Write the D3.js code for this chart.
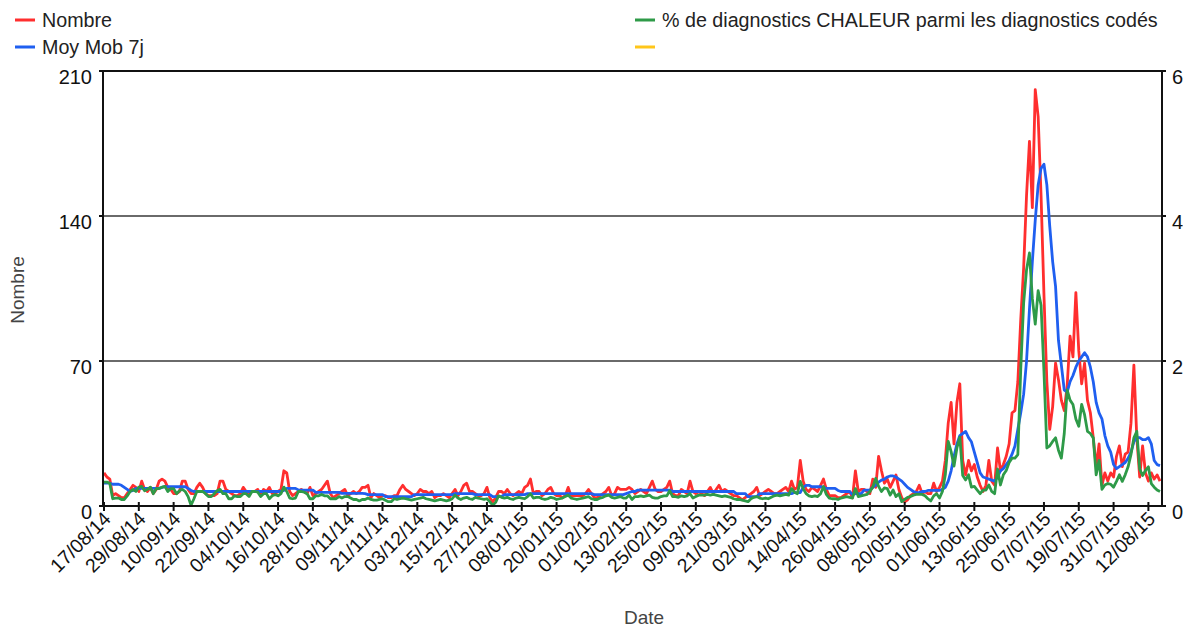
<!DOCTYPE html>
<html><head><meta charset="utf-8">
<script src="https://cdn.jsdelivr.net/npm/d3@7"></script>
<style>body{margin:0;background:#fff} text{font-family:"Liberation Sans",Arial,sans-serif}</style>
</head><body><svg id="c" width="1183" height="628"></svg>
<script>
const startDate = new Date(2014, 7, 17);
const tickEvery = 12;
const tickLabels = ["17/08/14","29/08/14","10/09/14","22/09/14","04/10/14","16/10/14","28/10/14","09/11/14","21/11/14","03/12/14","15/12/14","27/12/14","08/01/15","20/01/15","01/02/15","13/02/15","25/02/15","09/03/15","21/03/15","02/04/15","14/04/15","26/04/15","08/05/15","20/05/15","01/06/15","13/06/15","25/06/15","07/07/15","19/07/15","31/07/15","12/08/15"];
const seriesNames = ["Nombre","Moy Mob 7j","% de diagnostics CHALEUR parmi les diagnostics codés",""];
const seriesColors = ["#ff2e2e","#1f5ff0","#2e9a48","#ffc61a"];
const leftTicks = [0,70,140,210];
const rightTicks = [0,2,4,6];

const nombre = [
16,14,13,5,6,5,4,4,6,8,
10,9,7,12,8,7,9,6,8,12,
13,12,9,8,6,6,7,12,12,8,
6,6,9,11,9,6,5,5,5,6,
12,12,8,7,6,5,5,6,9,7,
6,7,7,8,5,8,7,9,6,6,
7,8,17,16,7,5,6,7,8,7,
6,9,5,6,7,8,10,12,6,4,
5,6,7,8,5,6,7,6,7,9,
9,10,4,6,5,4,5,5,4,4,
5,5,8,10,8,7,6,5,6,8,
7,7,6,7,4,5,5,6,5,4,
6,8,5,7,10,11,7,7,6,5,
5,6,9,4,2,4,7,7,6,8,
6,5,6,7,6,9,10,13,6,7,
7,5,6,8,9,6,5,5,4,5,
9,5,5,5,5,5,6,8,6,4,
4,5,6,7,9,5,6,9,8,8,
8,9,8,6,7,8,7,6,9,12,
8,7,7,8,9,12,6,5,5,8,
7,6,12,7,6,7,6,5,7,9,
6,8,10,7,8,7,6,5,5,4,
3,4,5,6,7,9,5,6,7,8,
7,6,6,7,8,9,7,12,8,9,
22,12,8,7,9,8,7,10,13,8,
5,5,5,4,4,5,6,7,4,17,
7,8,8,7,6,13,9,24,17,11,
13,9,12,15,8,4,2,3,5,6,
7,10,6,7,6,6,11,7,9,12,
22,40,50,30,50,59,22,15,22,17,
20,14,10,7,10,22,12,10,28,17,
20,24,30,45,46,60,90,115,150,176,
144,201,188,150,102,60,37,48,69,61,
51,46,58,82,72,103,75,59,69,51,
45,33,19,30,10,16,12,16,14,24,
29,19,25,26,40,68,33,14,29,16,
12,16,13,15,12];

const moyMob7j = [
11,11,11,10.5,10.5,10.5,10,9,8,7,
7.5,8.5,8.5,8.5,8.5,8.5,8.5,8.5,8.5,8.5,
9,9.3,9.3,9.3,9.3,9.3,9.3,9.3,9.3,8.5,
7.5,7,7,7,7,7,7,7,7,7,
7,7,7,7,7,7,7,7,7,7,
7,7,7,7,7,7,7,7,7,7,
7,7,7.5,8.5,8.5,8.5,8.5,7.7,7.7,7.7,
7.7,7.7,7.7,6.6,6.6,6.6,6.6,6.6,6.6,6.6,
6.6,6.6,6.1,6.1,6.1,6.1,6.1,6.1,6.1,6.1,
6,5.5,5.5,5.5,5.5,5.5,5.5,4.5,4.5,4.5,
4.5,4.5,4.5,4.5,4.5,4.5,4.5,5.5,5.5,5.5,
5.5,5.5,5.5,5.5,5.5,5.5,5.5,5.5,5.5,5.5,
5.5,6,6,6,6,6,6,6,5.5,5.5,
5.5,5.5,5.5,5.5,4.5,4.5,4.5,4.5,5.5,5.5,
5.5,5.5,5.5,5.5,5.5,5.5,6,6,6,6,
6,6,6,6,6,6,6,6,6,6,
6,6,6,6,6,6,6,6,6,5.5,
5.5,5.5,5.5,5.5,5.5,5.5,5.5,5.5,5.5,5.5,
6,6.5,7,7,7.7,7.7,7.7,7.7,7.7,7.7,
7.7,7.7,7.7,7.7,7.7,7.7,7,7,7,7,
7,7,7,7,7,7,7,7,7,7,
7,7,7,7,7,7,7,7,6,6,
6,6,4.5,4.5,4.5,4.5,6,6,6,6,
6,6,6,6,6,6,6,6,6.5,6.5,
6.5,9,10,10,9.3,9.3,9.3,9.3,9,8.5,
8.5,8.5,8.5,7.5,7,7,7,7,5.5,6,
6,6,7.7,7.7,7.7,9,10,11.5,12.5,13,
14,14.5,14.5,14,13,12,10.5,9,8,7,
6.5,6.5,7,7,7.5,7.5,7.5,7.5,7.5,8,
9,12,17,24,30,34,35,36,33,31,
26,21,16,14,13.5,13,12.5,12,14,17,
18,20,22,25,29,37,45,54,70,95,
118,138,155,163,165,155,135,118,106,80,
68,56,55,60,63,67,70,72,74,72,
67,60,50,45,42,34,29,26,20,18,
19,20,21,23,26,31,33,33,32,32,
33,30,22,20,19.5];

const pctChaleur = [
.33,.33,.31,.10,.11,.11,.09,.09,.14,.20,
.23,.20,.26,.27,.21,.23,.26,.17,.24,.24,
.26,.27,.20,.24,.24,.17,.21,.23,.20,.13,
.01,.10,.20,.20,.20,.17,.13,.13,.17,.21,
.23,.17,.17,.10,.10,.14,.13,.13,.17,.17,
.13,.20,.20,.19,.13,.17,.17,.10,.14,.16,
.14,.17,.26,.20,.11,.10,.11,.20,.20,.19,
.17,.10,.10,.14,.14,.16,.14,.14,.10,.10,
.10,.13,.11,.13,.13,.11,.09,.09,.07,.09,
.09,.11,.09,.08,.08,.09,.10,.08,.06,.06,
.10,.09,.10,.11,.10,.09,.08,.09,.10,.11,
.12,.10,.09,.08,.07,.08,.09,.08,.07,.08,
.10,.15,.11,.09,.11,.12,.10,.09,.12,.11,
.10,.09,.10,.06,.01,.05,.14,.12,.11,.12,
.10,.09,.11,.12,.11,.10,.13,.17,.11,.12,
.12,.10,.09,.10,.12,.11,.09,.10,.11,.13,
.15,.11,.10,.09,.10,.11,.12,.13,.10,.09,
.09,.11,.12,.14,.15,.12,.11,.12,.13,.11,
.11,.15,.09,.13,.13,.14,.13,.14,.15,.12,
.11,.11,.13,.14,.14,.21,.13,.13,.12,.14,
.13,.14,.17,.11,.13,.15,.15,.15,.16,.15,
.16,.15,.14,.13,.14,.13,.12,.10,.09,.09,
.08,.07,.06,.10,.12,.13,.11,.10,.11,.10,
.12,.14,.15,.14,.15,.16,.15,.24,.19,.17,
.34,.24,.17,.14,.13,.14,.13,.17,.27,.16,
.11,.10,.10,.09,.11,.12,.13,.12,.11,.24,
.13,.14,.15,.16,.20,.26,.38,.27,.20,.25,
.24,.15,.22,.13,.17,.06,.09,.12,.13,.15,
.16,.16,.16,.14,.10,.07,.14,.17,.11,.20,
.43,.89,.75,.55,.80,.95,.42,.36,.43,.26,
.27,.22,.17,.22,.22,.29,.20,.17,.51,.29,
.43,.49,.60,.66,.66,.71,1.89,2.80,3.26,3.49,
2.86,2.51,2.97,2.77,1.86,.80,.83,.89,.94,.77,
.66,1.00,1.60,1.46,1.40,1.20,1.10,1.40,1.26,1.03,
1.00,.94,.43,.63,.23,.29,.31,.30,.26,.34,
.43,.34,.43,.54,.71,.94,1.03,.51,.42,.49,
.54,.31,.26,.22,.20];

const days = d3.timeDay.range(startDate, d3.timeDay.offset(startDate, nombre.length));

const svg = d3.select("#c");
const L = 103, R = 1162, T = 71, B = 506;
const x = d3.scaleLinear().domain([0, days.length - 1]).range([104, 1160]);
const yL = d3.scaleLinear().domain([0, 210]).range([B, T]);
const yR = d3.scaleLinear().domain([0, 6]).range([B, T]);

// gridlines
svg.append("g").selectAll("line").data(leftTicks.slice(1, -1)).join("line")
  .attr("x1", L).attr("x2", R).attr("y1", d => yL(d)).attr("y2", d => yL(d))
  .attr("stroke", "#6a6a6a").attr("stroke-width", 2);

// lines
const mk = (arr, ys) => d3.line().x((d, i) => x(i)).y(d => ys(d))(arr);
const lineData = [[nombre, yL, 0], [moyMob7j, yL, 1], [pctChaleur, yR, 2]];
svg.append("g").selectAll("path").data(lineData).join("path")
  .attr("d", d => mk(d[0], d[1]))
  .attr("fill", "none").attr("stroke", d => seriesColors[d[2]])
  .attr("stroke-width", 2.8).attr("stroke-linejoin", "round");

// frame
svg.append("rect").attr("x", L).attr("y", T).attr("width", R - L).attr("height", B - T)
  .attr("fill", "none").attr("stroke", "#111").attr("stroke-width", 2);

// x axis ticks
const tickIdx = tickLabels.map((t, i) => i * tickEvery);
const xg = svg.append("g");
xg.selectAll("line").data(tickIdx).join("line")
  .attr("x1", d => x(d)).attr("x2", d => x(d)).attr("y1", B - 4).attr("y2", B + 5)
  .attr("stroke", "#111").attr("stroke-width", 2);
xg.selectAll("text").data(tickLabels).join("text")
  .attr("transform", (t, i) => `translate(${x(tickIdx[i]) + 8},${B + 14}) rotate(-45)`)
  .attr("text-anchor", "end").attr("font-size", 19.5).attr("fill", "#111").text(t => t);

// y axis ticks/labels
svg.append("g").selectAll("text").data(leftTicks).join("text")
  .attr("x", 92).attr("y", d => yL(d) + 6).attr("dy", "0.35em")
  .attr("text-anchor", "end").attr("font-size", 20).attr("fill", "#111").text(d => d);
svg.append("g").selectAll("text").data(rightTicks).join("text")
  .attr("x", 1172).attr("y", d => yR(d) + 6).attr("dy", "0.35em")
  .attr("text-anchor", "start").attr("font-size", 20).attr("fill", "#111").text(d => d);
svg.append("g").selectAll("line").data(leftTicks).join("line")
  .attr("x1", L - 4).attr("x2", L).attr("y1", d => yL(d)).attr("y2", d => yL(d))
  .attr("stroke", "#111").attr("stroke-width", 2);
svg.append("g").selectAll("line").data(rightTicks).join("line")
  .attr("x1", R).attr("x2", R + 4).attr("y1", d => yR(d)).attr("y2", d => yR(d))
  .attr("stroke", "#111").attr("stroke-width", 2);

// axis titles
svg.append("text").attr("x", 644).attr("y", 624).attr("text-anchor", "middle")
  .attr("font-size", 19).attr("fill", "#444").text("Date");
svg.append("text").attr("transform", "translate(24,290) rotate(-90)").attr("text-anchor", "middle")
  .attr("font-size", 19).attr("fill", "#444").text("Nombre");

// legend
const legPos = [[15, 20], [15, 47], [635, 20], [635, 47]];
const lg = svg.append("g");
seriesNames.forEach((n, i) => {
  const [lx, ly] = legPos[i];
  lg.append("line").attr("x1", lx).attr("x2", lx + 20).attr("y1", ly).attr("y2", ly)
    .attr("stroke", seriesColors[i]).attr("stroke-width", 3);
  lg.append("text").attr("x", lx + 27).attr("y", ly).attr("dy", "0.35em")
    .attr("font-size", 19.7).attr("fill", "#222").text(n);
});
</script>
</body></html>
